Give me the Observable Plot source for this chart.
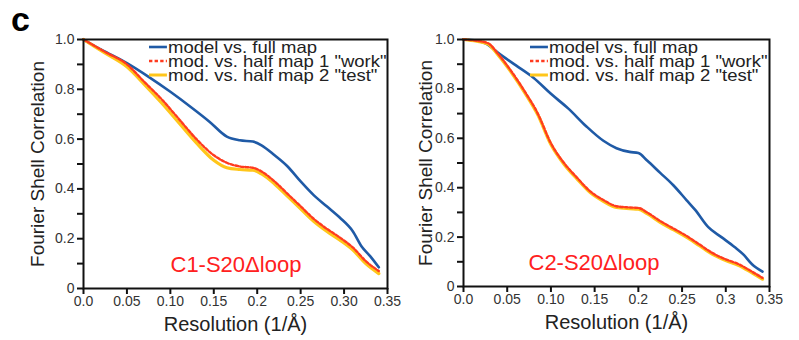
<!DOCTYPE html>
<html>
<head>
<meta charset="utf-8">
<script src="https://cdn.jsdelivr.net/npm/d3@7"></script>
<script src="https://cdn.jsdelivr.net/npm/@observablehq/plot@0.6"></script>
<style>
  body { margin: 0; background: #fff; font-family: "Liberation Sans", Arial, sans-serif; }
  #wrap { position: relative; width: 799px; height: 340px; overflow: hidden; }
  .panel { position: absolute; top: 0; }
  .tag { position: absolute; left: 11px; top: 2px; font-weight: bold; font-size: 34px; color: #000; line-height: 34px; }
  .legend { position: absolute; font-size: 16.5px; color: #222; line-height: 14px; transform: scaleX(1.12); transform-origin: left top; }
  .legend .row { display: flex; align-items: center; height: 14px; white-space: nowrap; }
  .legend .row span { display: block; height: 14px; line-height: 14px; }
  .legend svg { margin-right: 1px; }
</style>
</head>
<body>
<div id="wrap"><div class="tag">c</div></div>
<script>
// ---------- data ----------
const seriesNames = ["model vs. full map", "mod. vs. half map 1 \"work\"", "mod. vs. half map 2 \"test\""];
const panelNames = ["C1-S20\u0394loop", "C2-S20\u0394loop"];
const xAxisTitle = "Resolution (1/\u00c5)";
const yAxisTitle = "Fourier Shell Correlation";

const xTicks = [0, 0.05, 0.10, 0.15, 0.20, 0.25, 0.30, 0.35];
const xTickLabelsC1 = ["0.0", "0.05", "0.10", "0.15", "0.2", "0.25", "0.30", "0.35"];
const xTickLabelsC2 = ["0.0", "0.05", "0.10", "0.15", "0.2", "0.25", "0.3", "0.35"];
const yTicks = [0, 0.1, 0.2, 0.3, 0.4, 0.5, 0.6, 0.7, 0.8, 0.9, 1.0];
const yTickLabels = ["0", "", "0.2", "", "0.4", "", "0.6", "", "0.8", "", "1.0"];

// C1 panel
const c1FullX = [0, 0.02, 0.05, 0.075, 0.10, 0.125, 0.145, 0.165, 0.18, 0.195, 0.205, 0.22, 0.235, 0.25, 0.265, 0.28, 0.295, 0.31, 0.32, 0.33, 0.34];
const c1FullY = [1.0, 0.96, 0.905, 0.85, 0.79, 0.725, 0.67, 0.61, 0.595, 0.59, 0.575, 0.535, 0.49, 0.43, 0.375, 0.33, 0.285, 0.23, 0.17, 0.13, 0.085];
const c1HalfX = [0, 0.025, 0.05, 0.07, 0.09, 0.11, 0.13, 0.15, 0.165, 0.18, 0.195, 0.205, 0.22, 0.235, 0.25, 0.265, 0.28, 0.295, 0.31, 0.325, 0.34];
const c1Half1Y = [1.0, 0.95, 0.90, 0.83, 0.76, 0.68, 0.60, 0.535, 0.505, 0.49, 0.485, 0.47, 0.43, 0.38, 0.33, 0.28, 0.24, 0.205, 0.165, 0.11, 0.07];
const c1Half2Y = [1.0, 0.945, 0.89, 0.82, 0.745, 0.665, 0.585, 0.515, 0.485, 0.478, 0.475, 0.46, 0.42, 0.37, 0.32, 0.27, 0.23, 0.195, 0.155, 0.10, 0.06];

// C2 panel
const c2FullX = [0, 0.015, 0.025, 0.04, 0.06, 0.08, 0.10, 0.12, 0.14, 0.16, 0.175, 0.19, 0.20, 0.21, 0.225, 0.24, 0.255, 0.265, 0.28, 0.295, 0.31, 0.32, 0.33, 0.342];
const c2FullY = [1.0, 0.995, 0.985, 0.945, 0.895, 0.845, 0.78, 0.72, 0.65, 0.59, 0.56, 0.545, 0.54, 0.51, 0.46, 0.41, 0.35, 0.31, 0.24, 0.20, 0.16, 0.13, 0.09, 0.06];
const c2HalfX = [0, 0.015, 0.028, 0.04, 0.055, 0.07, 0.085, 0.10, 0.115, 0.13, 0.145, 0.16, 0.175, 0.19, 0.20, 0.21, 0.225, 0.24, 0.255, 0.27, 0.285, 0.30, 0.315, 0.33, 0.342];
const c2Half1Y = [1.0, 0.995, 0.985, 0.94, 0.87, 0.79, 0.70, 0.58, 0.50, 0.44, 0.385, 0.35, 0.325, 0.32, 0.318, 0.30, 0.265, 0.235, 0.205, 0.17, 0.135, 0.11, 0.09, 0.06, 0.035];
const c2Half2Y = [1.0, 0.993, 0.982, 0.935, 0.865, 0.785, 0.695, 0.575, 0.495, 0.435, 0.38, 0.345, 0.32, 0.315, 0.313, 0.295, 0.26, 0.23, 0.2, 0.165, 0.13, 0.105, 0.085, 0.055, 0.03];

// ---------- styling ----------
const BLUE = "#1f5aa6", RED = "#ff3b1f", YELLOW = "#ffc61a";
const FONT = "Liberation Sans, Arial, sans-serif";

function pts(xs, ys) { return xs.map((x, i) => ({x, y: ys[i]})); }

function panel(cfg) {
  const lblMap = new Map(xTicks.map((t, i) => [t, cfg.xLabels[i]]));
  const yMap = new Map(yTicks.map((t, i) => [t, yTickLabels[i]]));
  return Plot.plot({
    width: cfg.width, height: 340,
    marginLeft: cfg.ml, marginRight: cfg.mr, marginTop: 39, marginBottom: cfg.mb,
    style: {fontFamily: FONT, background: "transparent", overflow: "visible"},
    x: {domain: [0, 0.35]},
    y: {domain: [0, 1]},
    marks: [
      Plot.line(pts(cfg.fullX, cfg.fullY), {x: "x", y: "y", stroke: BLUE, strokeWidth: 2.6, curve: "monotone-x"}),
      Plot.line(pts(cfg.halfX, cfg.half2Y), {x: "x", y: "y", stroke: YELLOW, strokeWidth: 3.2, curve: "monotone-x"}),
      Plot.line(pts(cfg.halfX, cfg.half1Y), {x: "x", y: "y", stroke: RED, strokeWidth: 2.4, strokeDasharray: "3,2", curve: "monotone-x"}),
      Plot.frame({stroke: "#111", strokeWidth: 2}),
      Plot.axisX({ticks: xTicks, tickFormat: d => lblMap.get(d), tickSize: 6, strokeWidth: 2, stroke: "#111",
        tickPadding: 2, fontSize: 14, fill: "#333", label: null}),
      Plot.axisY({ticks: yTicks, tickFormat: d => yMap.get(d), tickSize: 6, strokeWidth: 2, stroke: "#111",
        tickPadding: 3, fontSize: 14, fill: "#333", label: null}),
      Plot.text([yAxisTitle], {frameAnchor: "left", text: d => d, rotate: -90, dx: -cfg.yTitleOff,
        fontSize: 19, fill: "#222", textAnchor: "middle", lineAnchor: "middle"}),
      Plot.text([xAxisTitle], {frameAnchor: "bottom", text: d => d, dy: 36,
        fontSize: 20, fill: "#222", textAnchor: "middle", lineAnchor: "middle"}),
      Plot.text([cfg.name], {frameAnchor: "bottom-left", text: d => d, dx: cfg.nameDx, dy: -17,
        fontSize: 22, fill: "#ff2020", textAnchor: "start", lineAnchor: "bottom"})
    ]
  });
}

const wrap = document.getElementById("wrap");
function place(svg, left) {
  const d = document.createElement("div");
  d.className = "panel";
  d.style.left = left + "px";
  d.appendChild(svg);
  wrap.appendChild(d);
}

place(panel({width: 400, ml: 83, mr: 13, mb: 52, xLabels: xTickLabelsC1,
  fullX: c1FullX, fullY: c1FullY, halfX: c1HalfX, half1Y: c1Half1Y, half2Y: c1Half2Y,
  name: panelNames[0], nameDx: 87, yTitleOff: 46}), 0);
place(panel({width: 399, ml: 63, mr: 30, mb: 54, xLabels: xTickLabelsC2,
  fullX: c2FullX, fullY: c2FullY, halfX: c2HalfX, half1Y: c2Half1Y, half2Y: c2Half2Y,
  name: panelNames[1], nameDx: 65, yTitleOff: 38}), 400);

// legends (one per panel)
const legendStyles = [
  {stroke: BLUE, width: 2.6, dash: null},
  {stroke: RED, width: 2.4, dash: "3,2"},
  {stroke: YELLOW, width: 3, dash: null}
];
function legend(left, top) {
  const lg = document.createElement("div");
  lg.className = "legend";
  lg.style.left = left + "px";
  lg.style.top = top + "px";
  seriesNames.forEach((name, i) => {
    const row = document.createElement("div");
    row.className = "row";
    const s = legendStyles[i];
    row.innerHTML = `<svg width="16" height="6"><line x1="0" x2="16" y1="3" y2="3" stroke="${s.stroke}" stroke-width="${s.width}" ${s.dash ? `stroke-dasharray="${s.dash}"` : ""}/></svg><span>${name}</span>`;
    lg.appendChild(row);
  });
  wrap.appendChild(lg);
}
legend(149, 40);
legend(530, 40);
</script>
</body>
</html>
